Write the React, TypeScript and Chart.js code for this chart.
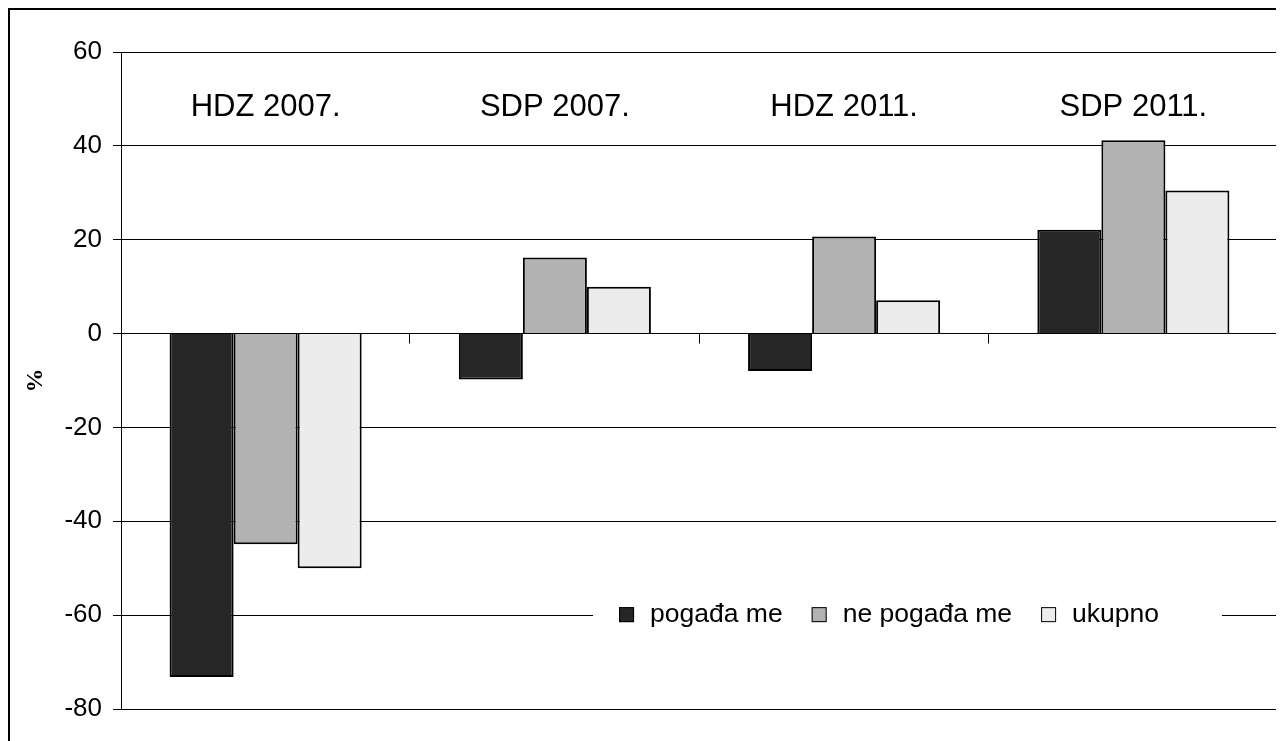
import React, { useEffect, useRef } from "react";
import { Chart, registerables } from "chart.js";

Chart.register(...registerables);

const categories = ["HDZ 2007.", "SDP 2007.", "HDZ 2011.", "SDP 2011."];
const seriesLabels = ["pogađa me", "ne pogađa me", "ukupno"];
const pogadaMe = [-73.2, -9.8, -8, 22.1];
const nePogadaMe = [-44.9, 16.2, 20.7, 41.2];
const ukupno = [-50, 10, 7.1, 30.5];
const seriesColors = ["#262626", "#b2b2b2", "#ececec"];
const yTicks = [-80, -60, -40, -20, 0, 20, 40, 60];

const FONT = "'Liberation Sans', Arial, sans-serif";

const categoryLabelPlugin = {
  id: "categoryLabels",
  afterDatasetsDraw(chart: any) {
    const { ctx, scales } = chart;
    const x = scales.x;
    const y = scales.y;
    ctx.save();
    ctx.fillStyle = "#000";
    ctx.font = `31px ${FONT}`;
    ctx.textAlign = "center";
    ctx.textBaseline = "alphabetic";
    const yy = y.getPixelForValue(46.3);
    categories.forEach((c, i) => {
      ctx.fillText(c, x.getPixelForValue(i), yy);
    });
    // zero axis tick marks at category boundaries
    const y0 = y.getPixelForValue(0);
    const ca = chart.chartArea;
    const w = (ca.right - ca.left) / categories.length;
    ctx.strokeStyle = "#000";
    ctx.lineWidth = 1;
    ctx.beginPath();
    for (let i = 1; i <= categories.length; i++) {
      const px = Math.round(ca.left + i * w) - 0.5;
      ctx.moveTo(px, y0);
      ctx.lineTo(px, y0 + 10);
    }
    ctx.stroke();
    ctx.restore();
  },
};

const legendPlugin = {
  id: "innerLegend",
  afterDraw(chart: any) {
    const { ctx, scales } = chart;
    const ca = chart.chartArea;
    const w = ca.right - ca.left;
    const cy = scales.y.getPixelForValue(-60);
    const boxLeft = ca.left + 0.408 * w;
    const boxRight = ca.left + 0.9516 * w;
    ctx.save();
    ctx.fillStyle = "#fff";
    ctx.fillRect(boxLeft, cy - 17, boxRight - boxLeft, 34);
    ctx.font = `26.5px ${FONT}`;
    ctx.textBaseline = "middle";
    ctx.textAlign = "left";
    let x = boxLeft + 26;
    seriesLabels.forEach((lab, i) => {
      const sq = 15;
      ctx.fillStyle = seriesColors[i];
      ctx.fillRect(x, cy - 8, sq, sq);
      ctx.strokeStyle = "#000";
      ctx.lineWidth = 1;
      ctx.strokeRect(x + 0.5, cy - 7.5, sq - 1, sq - 1);
      ctx.fillStyle = "#000";
      const tx = x + 31;
      ctx.fillText(lab, tx, cy);
      x = tx + ctx.measureText(lab).width + 29;
    });
    ctx.restore();
  },
};

export default function App() {
  const ref = useRef<HTMLCanvasElement | null>(null);
  useEffect(() => {
    if (!ref.current) return;
    const chart = new Chart(ref.current, {
      type: "bar",
      data: {
        labels: categories,
        datasets: [
          { label: seriesLabels[0], data: pogadaMe, backgroundColor: seriesColors[0] },
          { label: seriesLabels[1], data: nePogadaMe, backgroundColor: seriesColors[1] },
          { label: seriesLabels[2], data: ukupno, backgroundColor: seriesColors[2] },
        ].map((d) => ({
          ...d,
          borderColor: "#000",
          borderWidth: 2,
          barPercentage: 1,
          categoryPercentage: 0.664,
        })),
      },
      options: {
        animation: false,
        responsive: false,
        maintainAspectRatio: false,
        layout: { padding: { top: 42, right: 6, bottom: 32, left: 0 } },
        plugins: {
          legend: { display: false },
          tooltip: { enabled: false },
        },
        scales: {
          x: { display: false },
          y: {
            min: -80,
            max: 60,
            afterFit: (s: any) => {
              s.width = 111;
            },
            afterBuildTicks: (s: any) => {
              s.ticks = yTicks.map((v) => ({ value: v }));
            },
            ticks: {
              color: "#000",
              font: { family: FONT, size: 26 },
              padding: 11,
            },
            grid: {
              color: "#000",
              lineWidth: 1,
              tickLength: 8,
            },
            border: { display: true, color: "#000", width: 1 },
            title: {
              display: true,
              text: "%",
              color: "#000",
              font: { family: "'Liberation Serif', 'Times New Roman', serif", size: 24, weight: "bold" },
              padding: { top: 11, bottom: 0 },
            },
          },
        },
      },
      plugins: [categoryLabelPlugin, legendPlugin],
    });
    return () => chart.destroy();
  }, []);
  return (
    <div
      style={{
        width: 1276,
        height: 733,
        boxSizing: "border-box",
        borderLeft: "2px solid #000",
        borderTop: "2px solid #000",
        background: "#fff",
      }}
    >
      <canvas ref={ref} width={1274} height={731} style={{ display: "block", width: 1274, height: 731 }} />
    </div>
  );
}
